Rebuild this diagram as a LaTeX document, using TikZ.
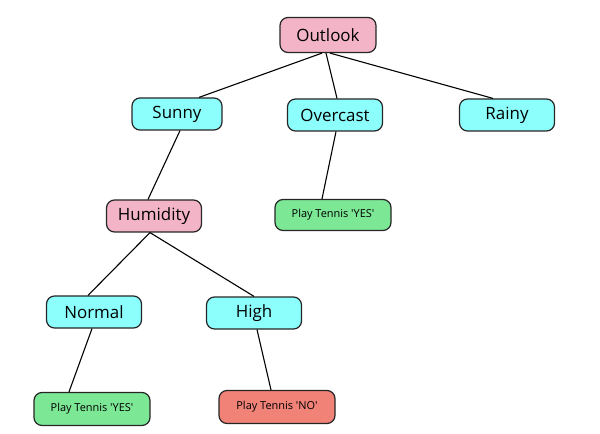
\documentclass[tikz,border=0pt]{standalone}
\usepackage{fontspec}
\setmainfont{Open Sans}
\usetikzlibrary{calc}
\definecolor{pinkbox}{RGB}{244,180,200}
\definecolor{cyanbox}{RGB}{140,255,252}
\definecolor{greenbox}{RGB}{124,232,150}
\definecolor{redbox}{RGB}{240,130,120}
\newcommand{\sq}{\textquotesingle}
\begin{document}
\begin{tikzpicture}[x=1bp,y=-1bp,
  box/.style={draw=black!85, line width=1.2bp, rounded corners=8bp, inner sep=0pt, align=center},
  big/.style={box, minimum width=95bp, minimum height=32bp, font=\fontsize{17}{19}\selectfont},
  small/.style={box, minimum width=116bp, minimum height=31bp, font=\fontsize{11}{13}\selectfont},
  edge/.style={line width=1.1bp, black}]
\useasboundingbox (0,0) rectangle (600,434);
\node[big, fill=pinkbox, minimum width=96bp, minimum height=35bp] (outlook) at (328,35) {Outlook};
\node[big, fill=cyanbox, minimum width=90bp] (sunny) at (177,114) {Sunny};
\node[big, fill=cyanbox] (overcast) at (335,115) {Overcast};
\node[big, fill=cyanbox] (rainy) at (507,115) {Rainy};
\node[big, fill=pinkbox] (humidity) at (154,216) {Humidity};
\node[small, fill=greenbox] (yes1) at (333,215) {Play Tennis \sq YES\sq};
\node[big, fill=cyanbox] (normal) at (94,312) {Normal};
\node[big, fill=cyanbox] (high) at (254,313) {High};
\node[small, fill=greenbox, minimum height=33bp] (yes2) at (92,409) {Play Tennis \sq YES\sq};
\node[small, fill=redbox, minimum height=33bp] (no) at (277,407) {Play Tennis \sq NO\sq};
\draw[edge] ($(outlook.south)+(-6,0)$) -- ($(sunny.north)+(22,0)$);
\draw[edge] ($(outlook.south)+(-2,0)$) -- ($(overcast.north)+(2,0)$);
\draw[edge] ($(outlook.south)+(2,0)$) -- ($(rainy.north)+(-14,0)$);
\draw[edge] ($(sunny.south)+(3,0)$) -- ($(humidity.north)+(-6,0)$);
\draw[edge] ($(overcast.south)+(1,0)$) -- ($(yes1.north)+(-11,0)$);
\draw[edge] ($(humidity.south)+(-4,0)$) -- ($(normal.north)+(-6,0)$);
\draw[edge] ($(humidity.south)+(-4,0)$) -- ($(high.north)+(0,0)$);
\draw[edge] ($(normal.south)+(-2,0)$) -- ($(yes2.north)+(-23,0)$);
\draw[edge] ($(high.south)+(3,0)$) -- ($(no.north)+(-6,0)$);
\end{tikzpicture}
\end{document}
